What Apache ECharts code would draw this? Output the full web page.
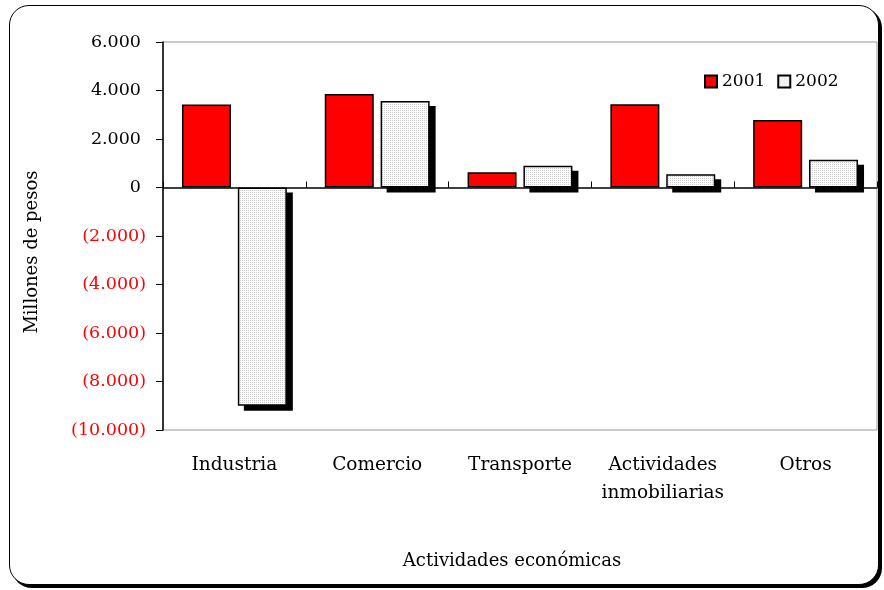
<!DOCTYPE html>
<html>
<head>
<meta charset="utf-8">
<script src="https://cdn.jsdelivr.net/npm/echarts@6/dist/echarts.min.js"></script>
<style>
  html, body { margin: 0; padding: 0; background: #fff; }
  .frame {
    position: absolute;
    left: 9px; top: 5px;
    width: 868px; height: 578px;
    border: 1.5px solid #000;
    border-radius: 20px;
    box-shadow: 3px 3px 0 #000;
    background: #fff;
  }
  #chart { position: absolute; left: 0; top: 0; width: 884px; height: 590px; }
</style>
</head>
<body>
<div class="frame"></div>
<div id="chart"></div>
<script>
// datos
const categories = ['Industria', 'Comercio', 'Transporte', 'Actividades\ninmobiliarias', 'Otros']
const years = ['2001', '2002']
const values2001 = [3420, 3860, 630, 3430, 2780]
const values2002 = [-9000, 3570, 900, 550, 1140]
const yMin = -10000
const yMax = 6000
const yStep = 2000

const BAR_W = 49
const BAR_GAP = 0.14

// trama punteada para 2002
function dotPattern() {
  const c = document.createElement('canvas')
  c.width = 2
  c.height = 2
  const ctx = c.getContext('2d')
  ctx.fillStyle = '#ffffff'
  ctx.fillRect(0, 0, 2, 2)
  ctx.fillStyle = '#cccccc'
  ctx.fillRect(0, 0, 1, 1)
  return c
}

function fmtNum(v) {
  const s = String(Math.abs(v)).replace(/\B(?=(\d{3})+(?!\d))/g, '.')
  return v < 0 ? '{neg|(' + s + ')}' : '{pos|' + s + '}'
}

// sombra negra detrás de las barras 2002
function renderShadow(params, api) {
  const idx = api.value(0)
  const top = api.coord([idx, api.value(1)])
  const base = api.coord([idx, 0])
  const total = BAR_W * 2 + BAR_W * BAR_GAP
  const x = top[0] - total / 2 + BAR_W + BAR_W * BAR_GAP + 6
  const y0 = Math.min(top[1], base[1]) + 5
  const h = Math.abs(top[1] - base[1])
  return {
    type: 'rect',
    shape: { x: x, y: y0, width: BAR_W, height: h },
    style: { fill: '#000' }
  }
}

const font = 'DejaVu Serif'
const chart = echarts.init(document.getElementById('chart'))
chart.setOption({
  animation: false,
  textStyle: { fontFamily: font },
  grid: {
    left: 163, right: 7, top: 42, bottom: 160,
    show: true, borderColor: '#999', borderWidth: 1
  },
  legend: {
    data: years,
    left: 699, top: 68,
    icon: 'rect',
    itemWidth: 12, itemHeight: 12, itemGap: 12,
    textStyle: { fontFamily: font, fontSize: 17, color: '#000' }
  },
  xAxis: [
    {
      type: 'category',
      data: categories,
      position: 'bottom',
      axisLine: { show: false, onZero: false },
      axisTick: { show: false },
      axisLabel: {
        interval: 0,
        color: '#000', fontFamily: font, fontSize: 18.5, lineHeight: 28, margin: 21
      },
      name: 'Actividades económicas',
      nameLocation: 'middle',
      nameGap: 122,
      nameTextStyle: { color: '#000', fontFamily: font, fontSize: 18, padding: [0, 16, 0, 0] }
    },
    {
      type: 'category',
      data: categories,
      axisLine: { onZero: true, lineStyle: { color: '#000', width: 1.5 } },
      axisTick: { show: true, length: 6, lineStyle: { color: '#000' } },
      axisLabel: { show: false }
    }
  ],
  yAxis: {
    type: 'value',
    min: yMin, max: yMax, interval: yStep,
    name: 'Millones de pesos',
    nameLocation: 'middle',
    nameGap: 122,
    nameTextStyle: { color: '#000', fontFamily: font, fontSize: 18, padding: [0, 32, 0, 0] },
    axisLine: { show: true, lineStyle: { color: '#000', width: 1.5 } },
    axisTick: { show: true, length: 7, lineStyle: { color: '#000' } },
    splitLine: { show: false },
    axisLabel: {
      margin: 17,
      fontFamily: font,
      fontSize: 17.5,
      formatter: fmtNum,
      rich: {
        pos: { color: '#000', fontFamily: font, fontSize: 17.5, padding: [0, 5, 0, 0] },
        neg: { color: '#ff0000', fontFamily: font, fontSize: 17.5 }
      }
    }
  },
  series: [
    {
      name: 'sombra',
      type: 'custom',
      xAxisIndex: 0,
      z: 1,
      silent: true,
      renderItem: renderShadow,
      data: values2002.map((v, i) => [i, v])
    },
    {
      name: years[0],
      type: 'bar',
      xAxisIndex: 0,
      z: 2,
      data: values2001,
      barWidth: BAR_W,
      barGap: BAR_GAP * 100 + '%',
      itemStyle: { color: '#ff0000', borderColor: '#000', borderWidth: 1.5 }
    },
    {
      name: years[1],
      type: 'bar',
      xAxisIndex: 0,
      z: 2,
      data: values2002,
      barWidth: BAR_W,
      barGap: BAR_GAP * 100 + '%',
      itemStyle: {
        color: { image: dotPattern(), repeat: 'repeat' },
        borderColor: '#000',
        borderWidth: 1.5
      }
    }
  ]
})
</script>
</body>
</html>
